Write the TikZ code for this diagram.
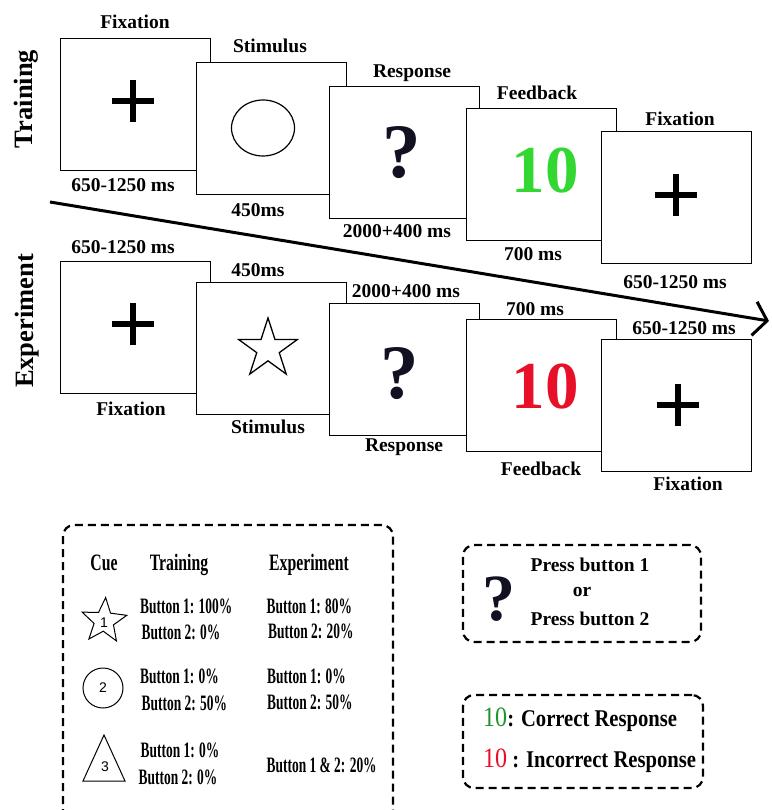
\documentclass[tikz,border=0pt]{standalone}
\usepackage{fontspec}
\setmainfont{Liberation Serif}
\newfontfamily\cndH[FakeStretch=0.67]{Liberation Serif}
\newfontfamily\cndE[FakeStretch=0.61]{Liberation Serif}
\newfontfamily\cndL[FakeStretch=0.86]{Liberation Serif}
\newfontfamily\sansf{Liberation Sans}
\usetikzlibrary{arrows.meta,shapes.geometric}
\definecolor{fbgreen}{RGB}{50,215,50}
\definecolor{fbred}{RGB}{232,16,40}
\definecolor{lggreen}{RGB}{30,150,45}
\definecolor{qmark}{RGB}{17,17,34}
\tikzset{
  scr/.style={draw, line width=1.3pt, fill=white, minimum width=150pt, minimum height=132pt, inner sep=0pt, anchor=north west},
  lbl/.style={inner sep=0pt, anchor=base, font=\fontsize{19.5}{22}\selectfont\bfseries},
  side/.style={inner sep=0pt, anchor=base, rotate=90, font=\fontsize{26.5}{28}\selectfont\bfseries},
  plusbar/.style={line width=5.5pt},
  qm/.style={inner sep=0pt, anchor=base, text=qmark, font=\fontsize{77}{80}\selectfont\bfseries},
  ten/.style={inner sep=0pt, anchor=base, font=\fontsize{67}{70}\selectfont\bfseries},
  hdr/.style={inner sep=0pt, anchor=base, font=\fontsize{23.5}{25}\selectfont\cndH\bfseries},
  ent/.style={inner sep=0pt, anchor=base west, font=\fontsize{22}{24}\selectfont\cndE\bfseries},
  cuenum/.style={inner sep=0pt, font=\fontsize{14}{16}\selectfont\sansf},
  dbox/.style={draw, dash pattern=on 8pt off 5pt, line width=2.2pt, rounded corners=11pt},
  cueline/.style={line width=1pt},
}
\begin{document}
\begin{tikzpicture}[x=1pt,y=-1pt]
\useasboundingbox (0,0) rectangle (771,810);
\fill[white] (0,0) rectangle (771,810);

% ---------- Training row ----------
\node[scr] (t1) at (60,38) {};
\draw[plusbar] (112,101) -- (154,101);
\draw[plusbar] (133,80) -- (133,122);
\node[scr] (t2) at (196,62) {};
\draw[line width=1.2pt] (263,128) ellipse [x radius=31.5, y radius=28];
\node[scr] (t3) at (329,86) {};
\node[qm] (tq) at (402,178) {?};
\node[scr] (t4) at (466,108) {};
\node[ten, text=fbgreen] (tten) at (545,193) {10};
\node[scr] (t5) at (601,131) {};
\draw[plusbar] (655,195) -- (697,195);
\draw[plusbar] (676,174) -- (676,216);

\node[lbl] (tl1) at (135,28.5) {Fixation};
\node[lbl] (tl2) at (270,53) {Stimulus};
\node[lbl] (tl3) at (412,78) {Response};
\node[lbl] (tl4) at (537,100) {Feedback};
\node[lbl] (tl5) at (680,125.5) {Fixation};
\node[lbl] (td1) at (123,191.5) {650-1250 ms};
\node[lbl] (td2) at (258,217) {450ms};
\node[lbl] (td3) at (397,237) {2000+400 ms};
\node[lbl] (td4) at (533,260) {700 ms};
\node[lbl] (td5) at (675,288) {650-1250 ms};
\node[side] (train) at (32,99) {Training};

% ---------- time arrow ----------
\coordinate (as) at (50,202);
\coordinate (ae) at (769,321);
\draw[line width=3pt, -{Straight Barb[length=13pt,width=34pt,line width=3pt]}] (as) -- (ae);

% ---------- Experiment row ----------
\node[scr] (e1) at (60,261) {};
\draw[plusbar] (112,324) -- (154,324);
\draw[plusbar] (133,303) -- (133,345);
\node[scr] (e2) at (196,282) {};
\node[draw, star, star points=5, star point ratio=2.618, minimum size=62pt, inner sep=0pt, line width=1.3pt] (estar) at (268,349) {};
\node[scr] (e3) at (329,303) {};
\node[qm] (eq) at (400,398) {?};
\node[scr] (e4) at (466,319) {};
\node[ten, text=fbred] (eten) at (545,408) {10};
\node[scr] (e5) at (601,339) {};
\draw[plusbar] (657,405) -- (699,405);
\draw[plusbar] (678,384) -- (678,426);

\node[lbl] (ed1) at (123,253) {650-1250 ms};
\node[lbl] (ed2) at (258,276.5) {450ms};
\node[lbl] (ed3) at (406,297) {2000+400 ms};
\node[lbl] (ed4) at (535,315) {700 ms};
\node[lbl] (ed5) at (684,334) {650-1250 ms};
\node[lbl] (el1) at (131,415) {Fixation};
\node[lbl] (el2) at (268,433) {Stimulus};
\node[lbl] (el3) at (404,451.5) {Response};
\node[lbl] (el4) at (541,475) {Feedback};
\node[lbl] (el5) at (688,490) {Fixation};
\node[side] (expt) at (33,321) {Experiment};

% ---------- cue legend ----------
\draw[dbox] (63,830) -- (63,525) -- (393,525) -- (393,830);
\node[hdr] (hcue) at (104,570) {Cue};
\node[hdr] (htr) at (179,570) {Training};
\node[hdr] (hex) at (309,570) {Experiment};

\node[draw, star, star points=5, star point ratio=2.3, minimum size=47pt, inner sep=0pt, cueline, shape border rotate=-4] (cstar) at (104,621) {};
\node[cuenum] (c1) at (104,623) {1};
\node[draw, circle, minimum size=40pt, inner sep=0pt, cueline] (ccirc) at (103,688) {};
\node[cuenum] (c2) at (103,688) {2};
\draw[cueline] (104,735) -- (125,781) -- (83,781) -- cycle;
\node[cuenum] (c3) at (105,767) {3};

\node[ent] (r1a) at (140,613.5) {Button 1: 100\%};
\node[ent] (r1b) at (141.5,639) {Button 2: 0\%};
\node[ent] (r1c) at (266.5,613) {Button 1: 80\%};
\node[ent] (r1d) at (268,638) {Button 2: 20\%};
\node[ent] (r2a) at (140,683) {Button 1: 0\%};
\node[ent] (r2b) at (141.5,710.5) {Button 2: 50\%};
\node[ent] (r2c) at (267,683) {Button 1: 0\%};
\node[ent] (r2d) at (267,709) {Button 2: 50\%};
\node[ent] (r3a) at (140.5,757) {Button 1: 0\%};
\node[ent] (r3b) at (138.5,784) {Button 2: 0\%};
\node[ent] (r3c) at (266.5,772) {Button 1 \& 2: 20\%};

% ---------- response legend ----------
\node[dbox, minimum width=238pt, minimum height=97pt, inner sep=0pt] (boxa) at (582,593.5) {};
\node[qm, font=\fontsize{66}{68}\selectfont\bfseries] (aq) at (499,620) {?};
\node[lbl] (a1) at (590,571.5) {Press button 1};
\node[lbl] (a2) at (582,596.5) {or};
\node[lbl] (a3) at (590,625) {Press button 2};

% ---------- feedback legend ----------
\node[dbox, minimum width=240pt, minimum height=93pt, inner sep=0pt] (boxb) at (583,741.5) {};
\node[inner sep=0pt, anchor=base west, font=\fontsize{24}{25}\selectfont\cndL\bfseries] (b1) at (483,726)
  {{\fontsize{28}{28}\selectfont\mdseries\textcolor{lggreen}{10}}: Correct Response};
\node[inner sep=0pt, anchor=base west, font=\fontsize{24}{25}\selectfont\cndL\bfseries] (b2) at (483,767)
  {{\fontsize{28}{28}\selectfont\mdseries\textcolor{fbred}{10}} : Incorrect Response};
\end{tikzpicture}
\end{document}
